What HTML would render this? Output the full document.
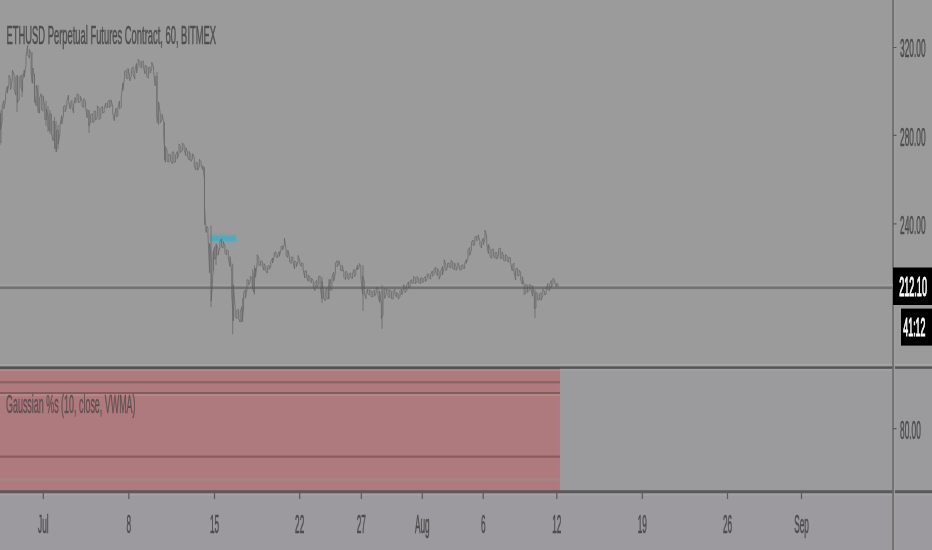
<!DOCTYPE html>
<html><head><meta charset="utf-8"><style>
html,body{margin:0;padding:0;}
body{width:932px;height:550px;overflow:hidden;background:#9b9b9b;position:relative;font-family:"Liberation Sans",sans-serif;}
svg{position:absolute;left:0;top:0;}
text{font-family:"Liberation Sans",sans-serif;}
</style></head><body>
<svg width="932" height="550" viewBox="0 0 932 550">
<rect x="0" y="369" width="932" height="122" fill="#9b9a9d"/>
<rect x="0" y="493" width="932" height="57" fill="#9c9a9e"/>
<rect x="0" y="369" width="560" height="122" fill="#af7a7d"/>
<rect x="558" y="369" width="1.6" height="122" fill="#b17a87"/>
<rect x="560" y="369" width="1.6" height="122" fill="#9c9c96"/>
<rect x="0" y="370" width="560" height="1" fill="#b78c8e"/>
<rect x="0" y="381" width="560" height="2.4" fill="#8c6466"/>
<rect x="0" y="392" width="560" height="2.2" fill="#875a60"/>
<rect x="0" y="394.2" width="560" height="1.6" fill="#b59080"/>
<rect x="0" y="455.5" width="560" height="2.2" fill="#8a5c60"/>
<rect x="0" y="478.5" width="560" height="2.2" fill="#a68786"/>
<rect x="0" y="364" width="932" height="1.8" fill="#a5a5a6"/>
<rect x="0" y="366.4" width="932" height="2.4" fill="#545456"/>
<rect x="0" y="367.6" width="560" height="1.2" fill="#5a4a4c"/>
<rect x="560" y="369.3" width="333" height="1.4" fill="#a4a3a6"/>
<rect x="0" y="490.2" width="932" height="3" fill="#5a5a5a"/>
<rect x="0" y="494" width="932" height="1.5" fill="#a3a2a5"/>
<rect x="892.2" y="0" width="1.7" height="550" fill="#6c6c6c"/>
<rect x="894" y="0" width="0.9" height="550" fill="#a2a2a2"/>
<rect x="0" y="284.4" width="893" height="1.3" fill="#a3a3a3"/>
<rect x="0" y="286.5" width="893" height="2.6" fill="#727272"/>
<rect x="210.5" y="235.2" width="25.5" height="6" fill="#4aabc0" style="filter:blur(1.1px)"/>
<path d="M0.5 113.2L0.5 129.8L2.2 121.0L2.2 105.6L3.9 100.6L3.9 108.7L5.6 100.3L5.6 93.8L7.3 86.1L7.3 93.2L9.0 83.1L9.0 75.2L10.7 78.9L10.7 89.6L12.4 78.2L12.4 70.1L14.1 75.0L14.1 88.6L15.8 95.1L15.8 76.7L17.5 75.2L17.5 102.4L19.2 99.4L19.2 77.0L20.9 75.4L20.9 86.7L22.6 91.4L22.6 80.6L24.3 70.1L24.3 77.1L26.0 64.7L26.0 56.5L27.7 45.3L27.7 54.7L29.4 58.1L29.4 49.4L31.1 54.2L31.1 72.6L32.8 83.4L32.8 68.0L34.5 77.4L34.5 93.8L36.2 105.8L36.2 85.4L37.9 93.2L37.9 106.7L39.6 113.2L39.6 98.0L41.3 93.7L41.3 109.2L43.0 111.2L43.0 95.6L44.7 106.8L44.7 119.4L46.4 120.0L46.4 108.8L48.1 117.0L48.1 127.2L49.8 130.9L49.8 113.8L51.5 114.0L51.5 134.1L53.2 140.9L53.2 121.0L54.9 123.5L54.9 143.1L56.6 151.6L56.6 130.4L58.3 130.5L58.3 144.0L60.0 132.4L60.0 125.1L61.7 115.6L61.7 124.1L63.4 115.4L63.4 106.6L65.1 105.3L65.1 111.9L66.8 106.6L66.8 101.6L68.5 95.1L68.5 101.6L70.2 108.8L70.2 102.8L71.9 100.4L71.9 106.9L73.6 112.9L73.6 105.0L75.3 97.6L75.3 103.1L77.0 101.3L77.0 93.9L78.7 94.8L78.7 102.8L80.4 101.3L80.4 96.4L82.1 101.0L82.1 106.3L83.8 107.3L83.8 98.6L85.5 101.7L85.5 107.2L87.2 117.8L87.2 109.5L88.9 111.4L88.9 125.9L90.6 122.1L90.6 114.7L92.3 113.8L92.3 122.1L94.0 122.3L94.0 111.1L95.7 111.2L95.7 120.2L97.4 116.2L97.4 105.8L99.1 108.4L99.1 119.7L100.8 117.8L100.8 107.8L102.5 106.6L102.5 112.9L104.2 112.5L104.2 107.9L105.9 103.0L105.9 107.3L107.6 107.7L107.6 102.5L109.3 100.1L109.3 107.4L111.0 106.1L111.0 99.8L112.7 106.8L112.7 112.9L114.4 120.8L114.4 116.0L116.1 108.1L116.1 116.9L117.8 116.0L117.8 108.4L119.5 101.0L119.5 108.6L121.2 107.4L121.2 97.7L122.9 82.9L122.9 90.4L124.6 76.7L124.6 71.1L126.3 70.1L126.3 78.1L128.0 78.9L128.0 68.3L129.7 76.2L129.7 80.9L131.4 75.7L131.4 69.3L133.1 66.8L133.1 74.4L134.8 79.0L134.8 70.7L136.5 63.5L136.5 73.0L138.2 65.0L138.2 59.3L139.9 61.3L139.9 66.2L141.6 68.2L141.6 61.7L143.3 61.0L143.3 66.3L145.0 73.8L145.0 65.3L146.7 66.4L146.7 76.5L148.4 78.1L148.4 67.5L150.1 67.1L150.1 73.3L151.8 68.5L151.8 62.3L153.5 66.9L153.5 70.6L155.2 85.9L155.2 76.2L156.9 77.0L156.9 114.5L158.6 124.4L158.6 101.9L160.3 114.2L160.3 122.8L162.0 119.2L162.0 114.4L163.7 122.0L163.7 135.2L165.4 162.1L165.4 146.5L167.1 151.0L167.1 161.5L168.8 162.1L168.8 154.0L170.5 155.0L170.5 160.7L172.2 163.6L172.2 151.8L173.9 152.2L173.9 162.7L175.6 161.9L175.6 155.3L177.3 151.5L177.3 158.6L179.0 153.1L179.0 143.9L180.7 146.6L180.7 152.4L182.4 150.7L182.4 143.1L184.1 144.6L184.1 149.5L185.8 155.8L185.8 147.6L187.5 152.2L187.5 156.8L189.2 160.1L189.2 151.3L190.9 155.3L190.9 161.4L192.6 158.7L192.6 153.7L194.3 157.4L194.3 166.7L196.0 170.0L196.0 162.1L197.7 163.1L197.7 170.2L199.4 166.2L199.4 159.3L201.1 161.8L201.1 165.9L202.8 169.6L202.8 165.5L204.5 179.7L204.5 207.0L206.2 232.6L206.2 226.9L207.9 227.1L207.9 233.3L209.6 272.9L209.6 243.5L211.3 261.2L211.3 300.8L213.0 272.7L213.0 252.8L214.7 246.8L214.7 259.5L216.4 255.8L216.4 244.1L218.1 249.0L218.1 255.1L219.8 247.5L219.8 241.6L221.5 238.9L221.5 247.2L223.2 247.7L223.2 241.5L224.9 245.8L224.9 253.1L226.6 255.0L226.6 249.7L228.3 251.1L228.3 257.8L230.0 266.4L230.0 256.6L231.7 271.9L231.7 294.2L233.4 321.0L233.4 284.7L235.1 306.8L235.1 316.3L236.8 318.8L236.8 310.4L238.5 309.4L238.5 318.2L240.2 322.2L240.2 312.0L241.9 306.8L241.9 321.6L243.6 307.7L243.6 292.9L245.3 289.7L245.3 298.3L247.0 289.6L247.0 279.6L248.7 280.3L248.7 285.2L250.4 280.8L250.4 276.2L252.1 277.7L252.1 285.1L253.8 292.4L253.8 274.2L255.5 268.1L255.5 277.3L257.2 262.9L257.2 254.8L258.9 258.0L258.9 265.5L260.6 265.2L260.6 261.2L262.3 261.2L262.3 265.7L264.0 270.4L264.0 263.5L265.7 266.7L265.7 270.9L267.4 273.1L267.4 267.1L269.1 265.2L269.1 269.4L270.8 267.1L270.8 261.3L272.5 258.0L272.5 263.1L274.2 256.1L274.2 252.9L275.9 251.7L275.9 256.7L277.6 257.6L277.6 254.7L279.3 251.6L279.3 256.4L281.0 249.9L281.0 246.5L282.7 246.2L282.7 250.0L284.4 244.0L284.4 238.1L286.1 249.2L286.1 255.3L287.8 257.5L287.8 250.0L289.5 257.4L289.5 261.9L291.2 263.5L291.2 257.2L292.9 257.0L292.9 261.6L294.6 268.9L294.6 260.9L296.3 262.3L296.3 266.8L298.0 261.9L298.0 255.4L299.7 260.2L299.7 264.1L301.4 266.4L301.4 262.9L303.1 263.5L303.1 268.9L304.8 278.0L304.8 271.0L306.5 271.0L306.5 276.6L308.2 281.2L308.2 274.9L309.9 277.0L309.9 281.3L311.6 282.6L311.6 278.1L313.3 280.9L313.3 286.7L315.0 290.6L315.0 283.1L316.7 280.3L316.7 287.8L318.4 284.3L318.4 276.6L320.1 275.9L320.1 285.2L321.8 298.8L321.8 281.3L323.5 289.5L323.5 298.0L325.2 300.7L325.2 291.7L326.9 287.7L326.9 299.0L328.6 298.8L328.6 287.3L330.3 279.4L330.3 290.3L332.0 289.4L332.0 276.6L333.7 272.1L333.7 281.1L335.4 272.8L335.4 263.2L337.1 260.7L337.1 266.8L338.8 263.7L338.8 260.6L340.5 266.6L340.5 270.4L342.2 270.8L342.2 265.3L343.9 272.8L343.9 277.4L345.6 279.6L345.6 271.2L347.3 272.6L347.3 278.2L349.0 279.4L349.0 274.1L350.7 272.9L350.7 277.1L352.4 278.9L352.4 274.3L354.1 269.3L354.1 276.7L355.8 275.4L355.8 270.9L357.5 265.2L357.5 269.9L359.2 267.0L359.2 263.5L360.9 266.2L360.9 277.7L362.6 294.3L362.6 275.8L364.3 281.0L364.3 292.7L366.0 298.8L366.0 293.4L367.7 289.0L367.7 293.8L369.4 295.1L369.4 289.7L371.1 291.4L371.1 296.8L372.8 296.6L372.8 291.1L374.5 290.5L374.5 296.3L376.2 292.8L376.2 287.7L377.9 287.6L377.9 295.1L379.6 302.2L379.6 291.2L381.3 304.8L381.3 318.6L383.0 314.9L383.0 290.4L384.7 288.5L384.7 298.4L386.4 293.3L386.4 288.4L388.1 290.0L388.1 296.7L389.8 297.7L389.8 289.7L391.5 291.7L391.5 298.7L393.2 298.7L393.2 291.2L394.9 289.2L394.9 294.5L396.6 297.2L396.6 292.4L398.3 294.8L398.3 299.2L400.0 296.4L400.0 290.7L401.7 289.0L401.7 295.0L403.4 290.1L403.4 284.6L405.1 285.9L405.1 292.6L406.8 290.5L406.8 285.0L408.5 281.8L408.5 287.9L410.2 287.1L410.2 280.7L411.9 279.7L411.9 283.5L413.6 283.0L413.6 276.6L415.3 277.6L415.3 283.9L417.0 281.5L417.0 276.6L418.7 278.4L418.7 282.8L420.4 283.6L420.4 278.4L422.1 277.8L422.1 282.7L423.8 281.7L423.8 278.4L425.5 276.4L425.5 281.5L427.2 278.6L427.2 273.9L428.9 274.4L428.9 277.4L430.6 279.3L430.6 274.3L432.3 271.0L432.3 276.4L434.0 274.7L434.0 269.5L435.7 267.1L435.7 272.5L437.4 275.6L437.4 268.5L439.1 271.7L439.1 279.1L440.8 274.6L440.8 270.8L442.5 266.4L442.5 274.9L444.2 267.2L444.2 259.8L445.9 265.4L445.9 270.7L447.6 267.7L447.6 263.2L449.3 263.1L449.3 267.2L451.0 267.7L451.0 260.4L452.7 261.9L452.7 268.6L454.4 269.7L454.4 263.0L456.1 266.4L456.1 270.4L457.8 267.6L457.8 262.8L459.5 266.4L459.5 269.5L461.2 270.1L461.2 265.5L462.9 264.7L462.9 268.3L464.6 268.6L464.6 264.2L466.3 259.6L466.3 263.2L468.0 257.4L468.0 249.9L469.7 247.4L469.7 255.3L471.4 250.0L471.4 242.2L473.1 240.0L473.1 245.5L474.8 244.8L474.8 237.0L476.5 236.3L476.5 240.8L478.2 239.3L478.2 234.9L479.9 241.1L479.9 245.2L481.6 248.0L481.6 242.2L483.3 238.2L483.3 244.8L485.0 238.6L485.0 230.2L486.7 236.0L486.7 243.1L488.4 253.6L488.4 244.4L490.1 249.3L490.1 257.1L491.8 258.4L491.8 249.3L493.5 249.3L493.5 256.2L495.2 258.2L495.2 252.3L496.9 252.6L496.9 259.2L498.6 254.8L498.6 248.8L500.3 248.0L500.3 258.5L502.0 258.3L502.0 251.8L503.7 256.2L503.7 260.7L505.4 260.9L505.4 254.6L507.1 255.9L507.1 261.1L508.8 262.1L508.8 257.2L510.5 257.9L510.5 262.4L512.2 270.8L512.2 265.1L513.9 263.1L513.9 271.0L515.6 280.1L515.6 269.2L517.3 268.0L517.3 275.5L519.0 275.8L519.0 270.1L520.7 272.2L520.7 279.9L522.4 284.4L522.4 276.7L524.1 285.2L524.1 294.4L525.8 293.6L525.8 284.1L527.5 285.4L527.5 292.4L529.2 290.6L529.2 284.5L530.9 285.2L530.9 289.0L532.6 296.2L532.6 285.6L534.3 294.8L534.3 309.0L536.0 307.3L536.0 292.2L537.7 294.2L537.7 300.0L539.4 299.8L539.4 293.9L541.1 292.7L541.1 300.3L542.8 295.6L542.8 289.2L544.5 291.8L544.5 294.9L546.2 294.1L546.2 287.8L547.9 283.5L547.9 289.5L549.6 290.8L549.6 284.5L551.3 280.5L551.3 287.7L553.0 283.5L553.0 278.1L554.7 279.8L554.7 282.3L556.4 287.0L556.4 283.4L558.1 284.1L558.1 287.5M0.0 113.0V145.0M1.0 110.0V143.0M17.0 76.0V112.0M22.0 74.0V97.0M32.0 52.0V83.0M34.5 74.0V103.0M38.0 85.0V113.0M46.0 101.0V126.0M48.0 106.0V132.0M50.0 110.0V134.0M54.5 117.0V149.0M56.0 121.0V152.0M58.0 125.0V149.0M89.0 110.0V133.0M157.0 72.0V123.0M164.5 122.0V160.0M204.5 167.0V225.0M211.0 225.5V307.0M213.6 251.0V271.0M216.0 243.7V265.0M232.7 263.7V334.5M242.7 298.0V321.7M252.7 269.0V289.0M254.5 265.5V294.5M322.0 277.0V303.0M329.0 279.0V299.0M363.0 265.0V311.0M382.0 285.0V329.0M535.0 289.5V318.0" stroke="#5a5a5a" stroke-width="0.75" fill="none" opacity="0.8" style="filter:blur(0.25px)"/>
<g stroke="#5a5a5a" stroke-width="1.2">
<path d="M893 47.5h3.5M893 135.3h3.5M893 223.9h3.5M893 428.6h3.5"/>
<path d="M43.3 493v6M128.8 493v6M214.5 493v6M299.7 493v6M361.3 493v6M422.3 493v6M483.2 493v6M556.8 493v6M642.3 493v6M727.5 493v6M801.5 493v6"/>
</g>
<rect x="893" y="267.5" width="39" height="37.5" fill="#000"/>
<rect x="901" y="308.6" width="31" height="37" fill="#000"/>
<text transform="translate(6.5,44) scale(0.361,1.0)" font-size="26" fill="#4f4f4f" stroke="#4f4f4f" stroke-width="0.45" vector-effect="non-scaling-stroke" style="filter:blur(0.35px)">ETHUSD Perpetual Futures Contract, 60, BITMEX</text>
<text transform="translate(6,413) scale(0.3505,1.0)" font-size="25.5" fill="#605052" stroke="#605052" stroke-width="0.35" vector-effect="non-scaling-stroke" style="filter:blur(0.35px)">Gaussian %s (10, close, VWMA)</text>
<text transform="translate(900,57) scale(0.334,1.0)" font-size="25" fill="#4d4d4d" stroke="#4d4d4d" stroke-width="0.45" vector-effect="non-scaling-stroke" style="filter:blur(0.35px)">320.00</text>
<text transform="translate(900,145.5) scale(0.334,1.0)" font-size="25" fill="#4d4d4d" stroke="#4d4d4d" stroke-width="0.45" vector-effect="non-scaling-stroke" style="filter:blur(0.35px)">280.00</text>
<text transform="translate(900,234) scale(0.334,1.0)" font-size="25" fill="#4d4d4d" stroke="#4d4d4d" stroke-width="0.45" vector-effect="non-scaling-stroke" style="filter:blur(0.35px)">240.00</text>
<text transform="translate(900,438.5) scale(0.334,1.0)" font-size="25" fill="#4d4d4d" stroke="#4d4d4d" stroke-width="0.45" vector-effect="non-scaling-stroke" style="filter:blur(0.35px)">80.00</text>
<text transform="translate(899.3,295.8) scale(0.325,1.0)" font-size="27.8" fill="#ffffff" stroke="#ffffff" stroke-width="0.9" vector-effect="non-scaling-stroke" style="filter:blur(0.3px)">212.10</text>
<text transform="translate(903.3,336.3) scale(0.34,1.0)" font-size="26" fill="#ffffff" stroke="#ffffff" stroke-width="0.9" vector-effect="non-scaling-stroke" style="filter:blur(0.3px)">41:12</text>
<text transform="translate(43.3,533) scale(0.33,1.0)" font-size="25" fill="#4d4d4d" stroke="#4d4d4d" stroke-width="0.45" vector-effect="non-scaling-stroke" text-anchor="middle" style="filter:blur(0.35px)">Jul</text>
<text transform="translate(128.8,533) scale(0.33,1.0)" font-size="25" fill="#4d4d4d" stroke="#4d4d4d" stroke-width="0.45" vector-effect="non-scaling-stroke" text-anchor="middle" style="filter:blur(0.35px)">8</text>
<text transform="translate(214.5,533) scale(0.33,1.0)" font-size="25" fill="#4d4d4d" stroke="#4d4d4d" stroke-width="0.45" vector-effect="non-scaling-stroke" text-anchor="middle" style="filter:blur(0.35px)">15</text>
<text transform="translate(299.7,533) scale(0.33,1.0)" font-size="25" fill="#4d4d4d" stroke="#4d4d4d" stroke-width="0.45" vector-effect="non-scaling-stroke" text-anchor="middle" style="filter:blur(0.35px)">22</text>
<text transform="translate(361.3,533) scale(0.33,1.0)" font-size="25" fill="#4d4d4d" stroke="#4d4d4d" stroke-width="0.45" vector-effect="non-scaling-stroke" text-anchor="middle" style="filter:blur(0.35px)">27</text>
<text transform="translate(422.3,533) scale(0.33,1.0)" font-size="25" fill="#4d4d4d" stroke="#4d4d4d" stroke-width="0.45" vector-effect="non-scaling-stroke" text-anchor="middle" style="filter:blur(0.35px)">Aug</text>
<text transform="translate(483.2,533) scale(0.33,1.0)" font-size="25" fill="#4d4d4d" stroke="#4d4d4d" stroke-width="0.45" vector-effect="non-scaling-stroke" text-anchor="middle" style="filter:blur(0.35px)">6</text>
<text transform="translate(556.8,533) scale(0.33,1.0)" font-size="25" fill="#4d4d4d" stroke="#4d4d4d" stroke-width="0.45" vector-effect="non-scaling-stroke" text-anchor="middle" style="filter:blur(0.35px)">12</text>
<text transform="translate(642.3,533) scale(0.33,1.0)" font-size="25" fill="#4d4d4d" stroke="#4d4d4d" stroke-width="0.45" vector-effect="non-scaling-stroke" text-anchor="middle" style="filter:blur(0.35px)">19</text>
<text transform="translate(727.5,533) scale(0.33,1.0)" font-size="25" fill="#4d4d4d" stroke="#4d4d4d" stroke-width="0.45" vector-effect="non-scaling-stroke" text-anchor="middle" style="filter:blur(0.35px)">26</text>
<text transform="translate(801.5,533) scale(0.33,1.0)" font-size="25" fill="#4d4d4d" stroke="#4d4d4d" stroke-width="0.45" vector-effect="non-scaling-stroke" text-anchor="middle" style="filter:blur(0.35px)">Sep</text>
</svg>
</body></html>
